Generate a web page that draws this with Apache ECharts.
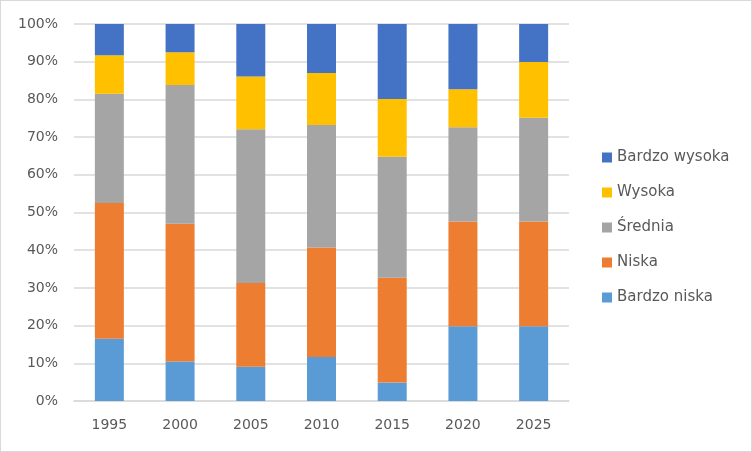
<!DOCTYPE html>
<html>
<head>
<meta charset="utf-8">
<script src="https://cdn.jsdelivr.net/npm/echarts@6/dist/echarts.min.js"></script>
<style>
html,body{margin:0;padding:0;background:#fff;}
#c{width:750px;height:450px;border:1px solid #d9d9d9;}
</style>
</head>
<body>
<div id="c"></div>
<script>
const categories = ['1995','2000','2005','2010','2015','2020','2025'];
const bardzoNiska   = [16.5, 10.5, 9.1, 11.7, 4.9, 19.8, 19.8];
const niska         = [36.0, 36.5, 22.2, 29.0, 27.8, 27.8, 27.8];
const srednia       = [29.0, 36.8, 40.8, 32.5, 32.1, 25.0, 27.5];
const wysoka        = [10.2, 8.7, 14.0, 13.8, 15.3, 10.1, 14.8];
const bardzoWysoka  = [8.3, 7.5, 13.9, 13.0, 19.9, 17.3, 10.1];
const seriesNames = ['Bardzo niska','Niska','Średnia','Wysoka','Bardzo wysoka'];
const seriesData = [bardzoNiska, niska, srednia, wysoka, bardzoWysoka];
const colors = ['#5b9bd5','#ed7d31','#a5a5a5','#ffc000','#4472c4'];

const chart = echarts.init(document.getElementById('c'));
const font = 'DejaVu Sans';
chart.setOption({
  animation: false,
  grid: {left: 73, right: 182, top: 23, bottom: 50, containLabel: false},
  legend: {
    orient: 'vertical',
    left: 596, top: 144,
    data: seriesNames.slice().reverse(),
    itemWidth: 10, itemHeight: 10, itemGap: 20,
    icon: 'rect',
    textStyle: {fontFamily: font, fontSize: 15, color: '#595959'}
  },
  xAxis: {
    type: 'category',
    data: categories,
    axisLine: {lineStyle: {color: '#d9d9d9', width: 1.5}},
    axisTick: {show: false},
    axisLabel: {fontFamily: font, fontSize: 14, color: '#595959', margin: 17}
  },
  yAxis: {
    type: 'value',
    min: 0, max: 100, interval: 10,
    axisLine: {show: false},
    axisTick: {show: false},
    splitLine: {lineStyle: {color: '#d9d9d9', width: 1.5}},
    axisLabel: {fontFamily: font, fontSize: 14, color: '#595959', formatter: '{value}%', margin: 16}
  },
  series: seriesNames.map((n, i) => ({
    name: n,
    type: 'bar',
    stack: 'all',
    data: seriesData[i],
    barWidth: '41%',
    itemStyle: {color: colors[i]}
  }))
});
</script>
</body>
</html>
